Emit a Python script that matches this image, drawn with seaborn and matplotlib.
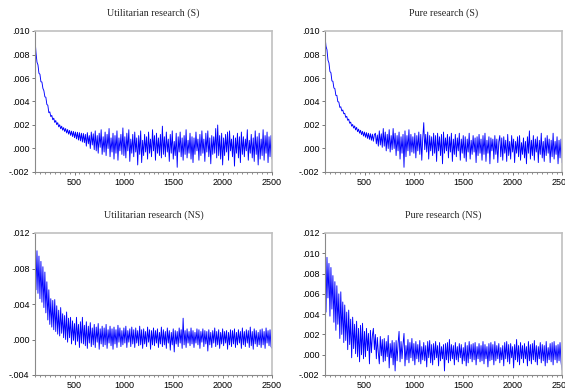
import numpy as np
import pandas as pd
import seaborn as sns
import matplotlib
matplotlib.use("Agg")
import matplotlib.pyplot as plt
from matplotlib.ticker import FuncFormatter, MultipleLocator

# Simulation periods 100..2500, one observation every 10 periods
periods = list(range(100, 2501, 10))

# Series values in units of 1e-5
util_s = [
    930, 815, 735, 712, 640, 632, 568, 566, 512, 492,
    440, 436, 375, 368, 305, 312, 272, 282, 245, 258,
    222, 238, 203, 220, 184, 202, 168, 190, 156, 178,
    145, 170, 132, 162, 122, 154, 112, 148, 102, 145,
    92, 140, 82, 138, 72, 135, 65, 130, 55, 128,
    50,
    120, 20, 135, 40, 110, 0, 140, 30, 125, -10,
    150, -20, 110, -40, 130, 10, 160, -50, 100, -30,
    140, -60, 120, 0, 170, -70, 90, -30, 130, -90,
    110, -40, 150, -100, 90, -20, 120, -50, 175, -60,
    100, -80, 130, -20, 160, -110, 80, -40, 120, -70,
    140, -30, 90, -140, 110, -50, 150, -120, 70, -60,
    120, -30, 100, -90, 140, -40, 80, -70, 160, -20,
    110, -100, 130, -40, 90, -60, 120, -80, 190, -50,
    100, -70, 140, -30, 80, -110, 120, -40, 150, -90,
    60, -60, 130, -160, 100, -30, 140, -70, 90, -100,
    110, -50, 160, -80, 70, -40, 130, -90, 100, -120,
    90, -50, 140, -20, 80, -100, 120, -60, 150, -40,
    80, -110, 130, -30, 150, -70, 90, -130, 110, -50,
    100, -40, 170, -80, 200, -60, 110, -90, 130, -140,
    90, -60, 120, -30, 140, -100, 150, -20, 80, -70,
    110, -150, 90, -40, 130, -80, 100, -120, 140, -50,
    100, -70, 80, -20, 160, -100, 70, -40, 120, -80,
    90, -110, 150, -50, 100, -140, 130, -90, 80, -60,
    160, -100, 110, -40, 140, -120, 100, -70, 110, -90,
]

pure_s = [
    955, 870, 840, 752, 728, 655, 645, 575, 572, 515,
    510, 452, 452, 398, 396, 350, 355, 320, 328, 296,
    300, 265, 274, 240, 250, 215, 225, 190, 205, 174,
    192, 158, 180, 143, 165, 130, 155, 118, 146, 106,
    140, 96, 135, 86, 130, 78, 126, 70, 122, 62,
    118,
    130, 40, 115, 20, 150, 30, 125, 10, 170, 20,
    140, -20, 120, 0, 160, -30, 110, -10, 170, 0,
    130, -60, 110, -20, 140, -90, 100, -40, 120, -160,
    150, -70, 110, -20, 160, -60, 120, -30, 100, -40,
    130, -80, 110, -20, 140, -50, 120, -100, 90, 220,
    -10, 120, -30, 140, -90, 110, -20, 100, -60, 130,
    -40, 110, -110, 130, -20, 100, -60, 120, -130, 140,
    -40, 90, -20, 120, -80, 100, -30, 130, -110, 80,
    -50, 120, -70, 90, -20, 130, -100, 80, -40, 110,
    -80, 100, -110, 80, -30, 130, -90, 70, -50, 110,
    -30, 90, -120, 100, -60, 120, -40, 80, -100, 110,
    -50, 130, -110, 70, -40, 100, -130, 90, -20, 80,
    -90, 110, -50, 80, -120, 60, 110, -70, 90, -100,
    100, -40, 70, -110, 120, -60, 60, -90, 110, -30,
    80, -120, 60, -40, 100, -70, 110, -100, 50, -50,
    90, -80, 60, -130, 100, -40, 150, -90, 70, -60,
    110, -100, 80, -30, 100, -120, 70, -50, 130, -80,
    60, -110, 90, -60, 110, -40, 80, -120, 70, -70,
    130, -90, 60, -50, 100, -130, 70, -80, 80, -120,
]

util_ns = [
    1130, 560, 1000, 520, 940, 460, 880, 420, 820, 360,
    760, 300, 650, 220, 560, 170, 460, 140, 440, 110,
    450, 90, 380, 60, 330, 40, 360, 70, 290, 20,
    270, 0, 310, -30, 240, 20, 250, -50, 210, -10,
    180, -60, 250, -20, 170, -90, 200, -40, 250, -50,
    160, -70, 200, -100, 150, -40, 190, -80, 130, -60,
    170, -90, 140, -30, 180, -110, 120, -50, 150, -80,
    130, -60, 170, -100, 110, -40, 150, -70, 120, -110,
    140, -50, 110, -90, 160, -30, 130, -80, 100, -60,
    130, -40, 150, -90, 100, -30, 120, -80, 140, -50,
    110, -90, 130, -40, 100, -70, 150, -60, 110, -100,
    120, -50, 90, -80, 140, -30, 110, -110, 100, -60,
    130, -70, 100, -40, 120, -90, 80, -50, 140, -80,
    110, -60, 90, -100, 130, -40, 100, -120, 80, -60,
    120, -140, 100, -50, 90, -80, 130, -40, 110, -100,
    240, -60, 100, -90, 120, -40, 90, -70, 130, -50,
    100, -90, 80, -40, 120, -60, 110, -100, 90, -30,
    120, -80, 100, -50, 90, -130, 110, -60, 80, -90,
    100, -40, 130, -80, 90, -60, 110, -100, 80, -50,
    120, -70, 90, -40, 100, -110, 80, -60, 110, -80,
    100, -50, 120, -90, 80, -60, 110, -40, 90, -100,
    130, -60, 90, -80, 110, -40, 100, -90, 140, -70,
    90, -110, 120, -50, 100, -80, 80, -60, 110, -90,
    120, -60, 90, -100, 130, -40, 100, -70, 110, -80,
    -100,
]

pure_ns = [
    1060, 420, 960, 560, 900, 380, 860, 450, 780, 320,
    720, 240, 680, 300, 600, 160, 620, 200, 520, 120,
    490, 140, 420, 50, 440, 100, 350, -30, 370, 60,
    300, 10, 330, -20, 260, -70, 290, 0, 310, -40,
    230, -20, 260, 40, 210, -90, 240, 20, 190, 260,
    50, 200, -40, 170, 20, -90, 180, -10, 150, -70,
    160, -60, 130, -20, 190, -130, 110, -30, 140, -100,
    120, -160, 140, -60, 110, 230, -70, 130, -40, 100,
    210, -110, 90, -50, 150, -80, 120, -30, 160, -60,
    110, -100, 130, -40, 100, -70, 140, -90, 80, -50,
    120, -60, 90, -120, 130, -30, 140, -80, 100, -100,
    110, -50, 130, -30, 90, -110, 120, -60, 80, -40,
    100, -160, 110, -50, 120, -80, 150, -60, 100, -40,
    90, -100, 120, -50, 80, -70, 110, -30, 100, -90,
    70, -60, 120, -110, 90, -80, 130, -40, 100, -70,
    110, -50, 120, -100, 80, -40, 110, -70, 90, -60,
    130, -90, 100, -40, 80, -120, 110, -60, 120, -50,
    100, -100, 130, -60, 90, -40, 110, -80, 70, -50,
    90, -110, 120, -40, 130, -70, 100, -90, 110, -30,
    80, -130, 100, -50, 150, -70, 90, -100, 120, -40,
    90, -80, 110, -40, 80, -110, 130, -60, 100, -90,
    110, -50, 140, -70, 90, -100, 80, -40, 120, -80,
    100, -60, 90, -110, 130, -80, 70, -50, 110, -70,
    120, -100, 130, -50, 90, -80, 100, -60, 120, -70,
    -150,
]

titles = ["Utilitarian research (S)", "Pure research (S)",
          "Utilitarian research (NS)", "Pure research (NS)"]
series = [util_s, pure_s, util_ns, pure_ns]
y_limits = [(-0.002, 0.010), (-0.002, 0.010), (-0.004, 0.012), (-0.002, 0.012)]
y_steps = [0.002, 0.002, 0.004, 0.002]
x_ticks = [500, 1000, 1500, 2000, 2500]

sns.set_style("white")
plt.rcParams["font.family"] = ["Liberation Sans", "DejaVu Sans"]

W, H = 565, 392
fig = plt.figure(figsize=(W / 100, H / 100), dpi=100)

# panel boxes in pixels: left, top, width, height
boxes = [(35, 31, 237, 141), (325, 31, 237, 141),
         (35, 233, 237, 142), (325, 233, 237, 142)]


def fmt(v, pos):
    if abs(v) < 1e-9:
        return ".000"
    s = f"{v:.3f}"
    return s.replace("-0.", "-.").replace("0.", ".", 1)


for title, vals, ylim, ystep, (l, t, w, h) in zip(titles, series, y_limits, y_steps, boxes):
    ax = fig.add_axes([l / W, 1 - (t + h) / H, w / W, h / H])
    df = pd.DataFrame({"period": periods, "value": np.array(vals) * 1e-5})
    sns.lineplot(data=df, x="period", y="value", ax=ax, color="#0000ff",
                 linewidth=0.65, estimator=None)
    ax.set_xlim(100, 2500)
    ax.set_ylim(*ylim)
    ax.set_xticks(x_ticks)
    ax.xaxis.set_minor_locator(MultipleLocator(50))
    ax.yaxis.set_major_locator(MultipleLocator(ystep))
    ax.yaxis.set_major_formatter(FuncFormatter(fmt))
    ax.set_xlabel("")
    ax.set_ylabel("")
    ax.tick_params(axis="both", which="major", direction="out", length=2.5,
                   width=0.6, color="#606060", labelsize=6.5, pad=1.5,
                   labelcolor="black")
    ax.tick_params(axis="x", which="minor", direction="out", length=1.6,
                   width=0.5, color="#606060")
    ax.tick_params(axis="y", which="major", left=True)
    ax.tick_params(axis="x", which="both", bottom=True)
    for side in ["left", "bottom"]:
        ax.spines[side].set_color("#8a8a8a")
        ax.spines[side].set_linewidth(0.8)
    for side in ["top", "right"]:
        ax.spines[side].set_color("#c0c0c0")
        ax.spines[side].set_linewidth(1.2)
    ax.set_title(title, fontsize=7.2, family=["Liberation Serif", "DejaVu Serif"],
                 pad=11)
    ax.grid(False)

fig.savefig("out.png", dpi=100)
